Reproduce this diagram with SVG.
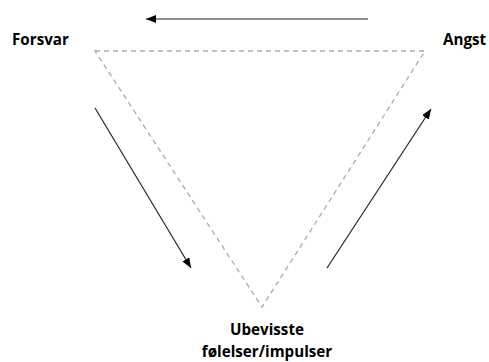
<svg xmlns="http://www.w3.org/2000/svg" width="489" height="362" viewBox="0 0 489 362">
<defs>
<marker id="ah" markerWidth="10" markerHeight="8" refX="10" refY="4" orient="auto" markerUnits="userSpaceOnUse">
<path d="M0,0 L10,4 L0,8 Z" fill="#000"/>
</marker>
<style>
.lbl{font-family:"Open Sans","Liberation Sans",sans-serif;font-weight:bold;font-size:15.2px;fill:#000}
.tri{fill:none;stroke:#aaa;stroke-width:1.3;stroke-dasharray:5,4}
.arr{stroke:#222;stroke-width:1.2;fill:none;marker-end:url(#ah)}
</style>
</defs>
<rect width="489" height="362" fill="#fff"/>
<g id="triangle"><path class="tri" d="M95,51 L425,51 L262,307 Z"/></g>
<g id="connectors">
<line class="arr" x1="368" y1="19" x2="146" y2="19"/>
<line class="arr" x1="95" y1="108" x2="191" y2="268"/>
<line class="arr" x1="327" y1="268" x2="431" y2="109"/>
</g>
<g id="forsvar"><text class="lbl" x="12" y="45">Forsvar</text></g>
<g id="angst"><text class="lbl" x="443" y="45">Angst</text></g>
<g id="ubevisste"><text class="lbl" x="267" y="335" text-anchor="middle">Ubevisste</text><text class="lbl" x="267" y="357" text-anchor="middle">følelser/impulser</text></g>
</svg>
